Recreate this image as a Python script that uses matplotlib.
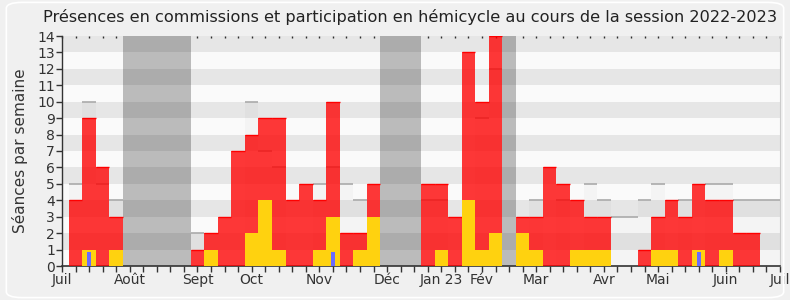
import numpy as np
import matplotlib
matplotlib.use('Agg')
import matplotlib.pyplot as plt
from matplotlib.patches import FancyBboxPatch

# weekly values, weeks 1..53 (0 in vacation weeks)
weeks = list(range(1, 54))
commission = [4, 9, 6, 3, 0, 0, 0, 0, 0, 1, 2, 3, 7, 8, 9, 9, 4, 5, 4, 10,
              2, 2, 5, 0, 0, 0, 5, 5, 3, 13, 10, 14, 0, 3, 3, 6, 5, 4, 3, 3,
              0, 0, 1, 3, 4, 3, 5, 4, 4, 2, 2, 0, 0]
hemicycle = [0, 1, 0, 1, 0, 0, 0, 0, 0, 0, 1, 0, 0, 2, 4, 1, 0, 0, 1, 3,
             0, 1, 3, 0, 0, 0, 0, 1, 0, 4, 1, 2, 0, 2, 1, 0, 0, 1, 1, 1,
             0, 0, 0, 1, 1, 0, 1, 0, 1, 0, 0, 0, 0]
questions = [0, 0.85, 0, 0, 0, 0, 0, 0, 0, 0, 0, 0, 0, 0, 0, 0, 0, 0, 0, 0.85,
             0, 0, 0, 0, 0, 0, 0, 0, 0, 0, 0, 0, 0, 0, 0, 0, 0, 0, 0, 0,
             0, 0, 0, 0, 0, 0, 0.85, 0, 0, 0, 0, 0, 0]
median = [5, 10, 5, 4, 0, 0, 0, 0, 0, 2, 0, 0, 0, 10, 7, 6, 0, 0, 5, 6,
          5, 4, 0, 0, 0, 0, 4, 4, 0, 0, 9, 12, 0, 0, 4, 0, 4, 0, 5, 4,
          3, 3, 4, 5, 0, 4, 0, 5, 5, 4, 4, 4, 4]
vacations = [(4.5, 9.5), (23.5, 26.5), (32.5, 33.5)]
month_pos = [0, 5, 10, 14, 19, 24, 28, 31, 35, 40, 44, 49, 53]
month_labels = ['Juil', 'Août', 'Sept', 'Oct', 'Nov', 'Déc', 'Jan 23', 'Fév',
                'Mar', 'Avr', 'Mai', 'Juin', 'Juil']

fig = plt.figure(figsize=(7.9, 3.0), dpi=100)
fig.patch.set_facecolor('#f0f0f0')
fig.patches.append(FancyBboxPatch((0.008, 0.008), 0.984, 0.984,
                                  boxstyle='round,pad=0,rounding_size=0.02',
                                  transform=fig.transFigure, facecolor='none',
                                  edgecolor='white', lw=1.2))
ax = fig.add_axes([62 / 790, 34 / 300, 718 / 790, 230 / 300])
ax.set_facecolor('#fafafa')

x = np.array(weeks)
for a, b in vacations:
    ax.axvspan(a, b, color='#bbbbbb', lw=0, zorder=1)
for v in range(1, 14, 2):
    ax.axhspan(v, v + 1, color='black', alpha=0.08, lw=0, zorder=2)

med = np.array(median)
ax.bar(x, med, width=1, color='black', alpha=0.025, lw=0, zorder=3)
m = med > 0
ax.hlines(med[m], x[m] - 0.5, x[m] + 0.5, color='#aaaaaa', lw=1.2, zorder=3.5)

com = np.array(commission)
ax.bar(x, com, width=1, color='#ff0000', alpha=0.78, lw=0, zorder=4)
c = com > 0
ax.hlines(com[c], x[c] - 0.5, x[c] + 0.5, color='#ff0000', lw=1, zorder=4.5)

ax.bar(x, hemicycle, width=1, color='#ffd20f', lw=0, zorder=5)
ax.bar(x, questions, width=0.3, color='#6b6bff', lw=0, zorder=6)

ax.set_xlim(0, 53)
ax.set_ylim(0, 14)
ax.set_yticks(range(0, 15))
ax.set_xticks(month_pos)
ax.set_xticklabels(month_labels)
ax.set_xticks(range(0, 54), minor=True)
ax.tick_params(axis='x', which='both', direction='out', length=4, width=1,
               color='#333333', labelsize=10, labelcolor='#333333', pad=1)
ax.tick_params(axis='y', direction='out', length=4, width=1, color='#333333',
               labelsize=10, labelcolor='#333333', pad=1)
ax.set_ylabel('Séances par semaine', fontsize=11, color='#333333', labelpad=7)

# tiny dotted ticks along the top edge
top = ax.secondary_xaxis('top')
top.set_xticks(range(0, 54))
top.tick_params(direction='in', length=1.5, width=1, color='#333333',
                labeltop=False)
top.spines['top'].set_visible(False)

ax.spines['top'].set_visible(False)
ax.spines['right'].set_color('#cccccc')
ax.spines['left'].set_color('#333333')
ax.spines['bottom'].set_color('#333333')
ax.spines['left'].set_linewidth(1)
ax.spines['bottom'].set_linewidth(1.2)

fig.text(410 / 790, 1 - 17 / 300,
         'Présences en commissions et participation en hémicycle au cours de la session 2022-2023',
         ha='center', va='center', fontsize=11.6, color='#222222')

fig.savefig('out.png', dpi=100, facecolor=fig.get_facecolor())
